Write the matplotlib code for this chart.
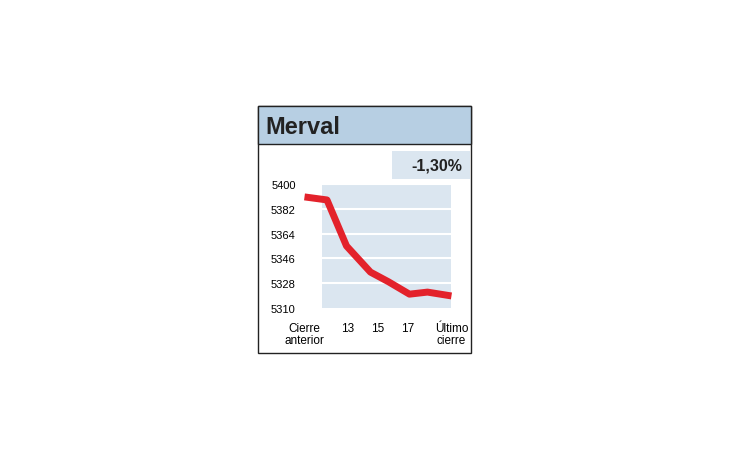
import matplotlib
matplotlib.use("Agg")
import matplotlib.pyplot as plt
from matplotlib.patches import Rectangle

title = "Merval"
change = "-1,30%"
hours = [10.1, 11.6, 12.9, 14.5, 15.7, 17.1, 18.3, 19.9]
values = [5390.6, 5388.4, 5355.0, 5336.0, 5329.0, 5320.0, 5321.5, 5318.7]
yticks = [5310, 5328, 5346, 5364, 5382, 5400]
xtick_pos = [10.1, 13, 15, 17, 19.9]
xtick_labels = ["Cierre\nanterior", "13", "15", "17", "Último\ncierre"]

W, H = 730, 460
fig = plt.figure(figsize=(7.3, 4.6), dpi=100)
fig.patch.set_facecolor("white")

def fx(x): return x / W
def fy(y): return 1 - y / H

blue = "#b7cfe3"
light = "#dbe6f0"
fig.patches.append(Rectangle((fx(258), fy(354)), (471-258)/W, (354-107)/H,
                             transform=fig.transFigure, fill=False, ec="#222222", lw=1))
fig.patches.append(Rectangle((fx(258), fy(145)), (471-258)/W, (145-107)/H,
                             transform=fig.transFigure, fc=blue, ec="#222222", lw=1))
fig.text(fx(265), fy(127), title, fontsize=17, fontweight="bold", va="center", ha="left",
         family="Liberation Sans", color="#222222")
fig.patches.append(Rectangle((fx(392), fy(180)), (470-392)/W, (180-152)/H,
                             transform=fig.transFigure, fc=light, ec="none"))
fig.text(fx(462), fy(166), change, fontsize=11.5, fontweight="bold", va="center", ha="right",
         family="Liberation Sans", color="#222222")

ax = fig.add_axes([fx(300), fy(315), 160/W, 135/H])
ax.set_xlim(9.8, 20.47)
ax.set_ylim(5305.6, 5403.6)
ax.axvspan(11.3, 19.9, ymin=(5310-5305.6)/98, ymax=(5400-5305.6)/98, color=light, lw=0, zorder=0)
for v in yticks[1:]:
    ax.plot([11.3, 19.9], [v, v], color="white", lw=1.5, zorder=1)
ax.plot(hours, values, color="#e3222b", lw=5, solid_capstyle="butt", solid_joinstyle="round", zorder=3)
ax.set_yticks(yticks)
ax.set_yticklabels([str(v) for v in yticks], fontsize=8, family="Liberation Sans")
ax.set_xticks(xtick_pos)
ax.set_xticklabels(xtick_labels, fontsize=8.5, family="Liberation Sans", linespacing=0.95)
ax.tick_params(length=0, pad=6)
ax.tick_params(axis="y", pad=3)
for s in ax.spines.values():
    s.set_visible(False)
ax.patch.set_alpha(0)
fig.savefig("out.png", dpi=100)
